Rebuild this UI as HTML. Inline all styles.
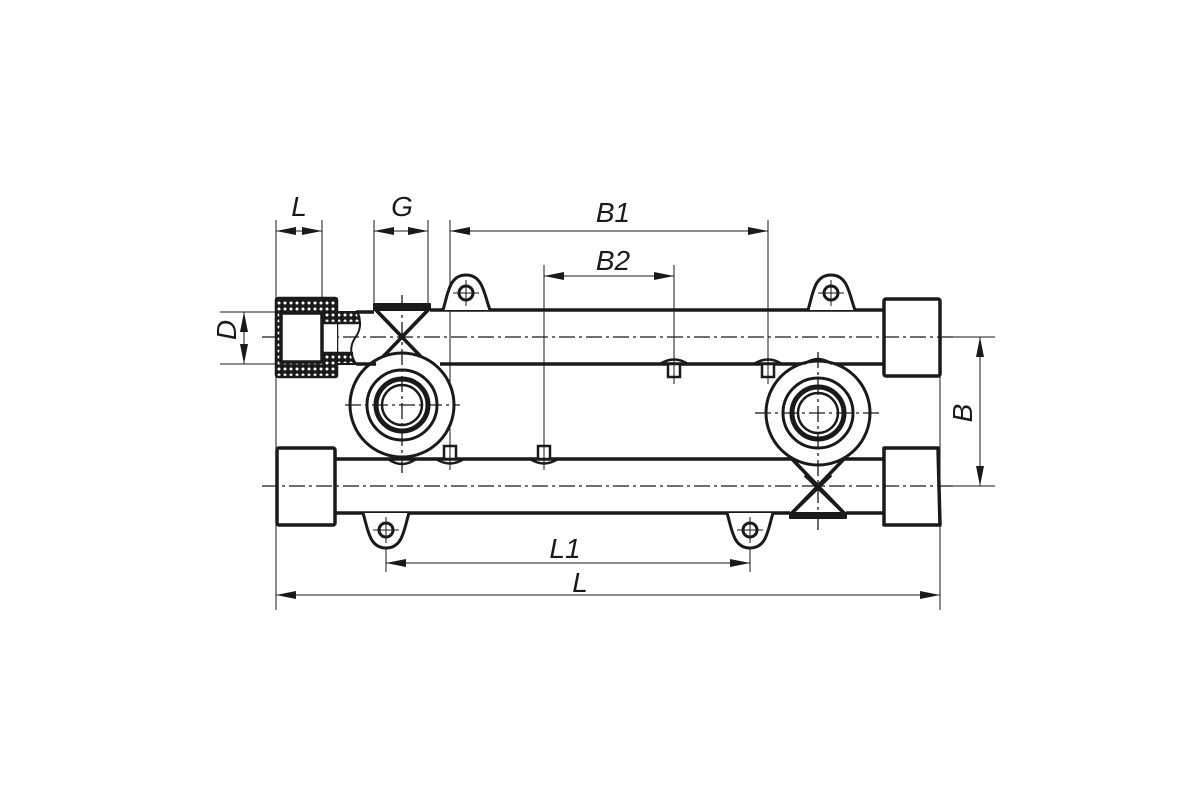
<!DOCTYPE html>
<html><head><meta charset="utf-8"><style>
html,body{margin:0;padding:0;background:#fff;}
svg{display:block;}
text{font-family:"Liberation Sans",sans-serif;font-style:italic;font-size:28px;fill:#1a1a1a;}
</style></head><body>
<svg width="1200" height="800" viewBox="0 0 1200 800" xmlns="http://www.w3.org/2000/svg">
<defs>
<pattern id="hat" width="6" height="6" patternUnits="userSpaceOnUse">
<rect width="6" height="6" fill="#1a1a1a"/>
<circle cx="3" cy="3" r="1.5" fill="#fff"/>
</pattern>
<marker id="ar" viewBox="0 0 20 8" refX="20" refY="4" markerWidth="20" markerHeight="8" markerUnits="userSpaceOnUse" orient="auto-start-reverse">
<path d="M0,0 L20,4 L0,8 Z" fill="#1a1a1a"/>
</marker>
</defs>
<g stroke="#1a1a1a" fill="none">
<g stroke-width="1">
<line x1="276" y1="220" x2="276" y2="610"/>
<line x1="322" y1="220" x2="322" y2="312"/>
<line x1="374" y1="220" x2="374" y2="304"/>
<line x1="428" y1="220" x2="428" y2="304"/>
<line x1="450" y1="220" x2="450" y2="470"/>
<line x1="768" y1="220" x2="768" y2="380"/>
<line x1="544" y1="265" x2="544" y2="470"/>
<line x1="674" y1="265" x2="674" y2="380"/>
<line x1="940" y1="376" x2="940" y2="610"/>
<line x1="386" y1="530" x2="386" y2="572"/>
<line x1="750" y1="530" x2="750" y2="572"/>
<line x1="220" y1="312" x2="280" y2="312"/>
<line x1="220" y1="364" x2="280" y2="364"/>
<line x1="940" y1="337" x2="995" y2="337"/>
<line x1="940" y1="486" x2="995" y2="486"/>
<line x1="276" y1="231" x2="322" y2="231" marker-start="url(#ar)" marker-end="url(#ar)"/>
<line x1="374" y1="231" x2="428" y2="231" marker-start="url(#ar)" marker-end="url(#ar)"/>
<line x1="450" y1="231" x2="768" y2="231" marker-start="url(#ar)" marker-end="url(#ar)"/>
<line x1="544" y1="276" x2="674" y2="276" marker-start="url(#ar)" marker-end="url(#ar)"/>
<line x1="244" y1="312" x2="244" y2="364" marker-start="url(#ar)" marker-end="url(#ar)"/>
<line x1="980" y1="337" x2="980" y2="486" marker-start="url(#ar)" marker-end="url(#ar)"/>
<line x1="386" y1="563" x2="750" y2="563" marker-start="url(#ar)" marker-end="url(#ar)"/>
<line x1="276" y1="595" x2="940" y2="595" marker-start="url(#ar)" marker-end="url(#ar)"/>
</g>
<g stroke-width="1.3" stroke-dasharray="16,4,3,4">
<line x1="262" y1="337" x2="955" y2="337"/>
<line x1="262" y1="486" x2="955" y2="486"/>
</g>
<g stroke-width="3.5" stroke-linejoin="round">
<line x1="430" y1="310" x2="884" y2="310"/>
<line x1="440" y1="364" x2="884" y2="364"/>
<rect x="884" y="299" width="56" height="77" rx="2"/>
<line x1="336" y1="459" x2="884" y2="459"/>
<line x1="336" y1="513" x2="790" y2="513"/>
<line x1="846" y1="513" x2="884" y2="513"/>
<rect x="277" y="448" width="58" height="77" rx="2"/>
<path d="M884,448 L938,448 L940,525 L884,525 Z"/>
<path d="M376,310 L428,364 M428,310 L376,364"/>
<path d="M374,304 L430,304 L430,310 L374,310 Z" fill="#1a1a1a" stroke-width="2"/>
<path d="M792,513 L844,459 M792,459 L844,513" />
<path d="M790,513 L846,513 L846,518 L790,518 Z" fill="#1a1a1a" stroke-width="2"/>
<circle cx="402" cy="405" r="52" fill="#fff" stroke-width="3"/>
<circle cx="402" cy="405" r="35" stroke-width="3"/>
<circle cx="402" cy="405" r="26" stroke-width="5"/>
<circle cx="402" cy="405" r="20" stroke-width="2.5"/>
<circle cx="818" cy="413" r="52" fill="#fff" stroke-width="3"/>
<circle cx="818" cy="413" r="35" stroke-width="3"/>
<circle cx="818" cy="413" r="26" stroke-width="5"/>
<circle cx="818" cy="413" r="20" stroke-width="2.5"/>
</g>
<g stroke-width="3.5">
<path d="M805,475 L844,513 M831,475 L792,513"/>
<path d="M376,310 L402,337 L428,310"/>
</g>
<g stroke-width="1.3" stroke-dasharray="16,4,3,4">
<line x1="402" y1="295" x2="402" y2="475"/>
<line x1="345" y1="405" x2="460" y2="405"/>
<line x1="818" y1="352" x2="818" y2="530"/>
<line x1="755" y1="413" x2="882" y2="413"/>
</g>
<!-- hatched fitting -->
<path d="M276,300 Q276,298 279,298 L335,298 Q337,298 337,300 L337,375 Q337,377 335,377 L279,377 Q276,377 276,375 Z" fill="url(#hat)" stroke-width="2.5"/>
<path d="M337,312 L357,312 Q361,317 359,323 L337,323 Z" fill="url(#hat)" stroke-width="2"/>
<path d="M337,353 L352,353 Q352,359 356,364 L337,364 Z" fill="url(#hat)" stroke-width="2"/>
<path d="M322,323 L337,323 L337,353 L322,353 Z" fill="#fff" stroke="none"/>
<path d="M322,323 L358,323 M322,353 L352,353" stroke-width="2.5"/>
<path d="M357,312 Q364,326 355,338 Q347,350 356,364" stroke-width="2"/>
<path d="M281,313 L322,313 L322,362 L281,362 Z" fill="#fff" stroke-width="3.5"/>
<path d="M356,312 L374,312" stroke-width="3.5"/>
<path d="M356,364 L376,364" stroke-width="3.5"/>
<!-- lugs -->
<g stroke-width="3">
<path d="M443,310 C448,294 449,275 466,275 C483,275 484,294 490,310" fill="#fff"/>
<path d="M808,310 C813,294 814,275 831,275 C848,275 849,294 855,310" fill="#fff"/>
<path d="M363,513 C368,529 369,548 386,548 C403,548 404,529 409,513" fill="#fff"/>
<path d="M727,513 C732,529 733,548 750,548 C767,548 768,529 773,513" fill="#fff"/>
<circle cx="466" cy="293" r="7"/><circle cx="831" cy="293" r="7"/>
<circle cx="386" cy="530" r="7"/><circle cx="750" cy="530" r="7"/>
</g>
<g stroke-width="1">
<path d="M453,293 H479 M466,280 V306 M818,293 H844 M831,280 V306 M373,530 H399 M386,517 V543 M737,530 H763 M750,517 V543"/>
</g>
<g stroke-width="2.5">
<path d="M660,364 Q674,355 688,364" /><rect x="668" y="364" width="12" height="13" fill="#fff"/>
<path d="M754,364 Q768,355 782,364" /><rect x="762" y="364" width="12" height="13" fill="#fff"/>
<path d="M436,459 Q450,468 464,459" /><rect x="444" y="446" width="12" height="13" fill="#fff"/>
<path d="M530,459 Q544,468 558,459" /><rect x="538" y="446" width="12" height="13" fill="#fff"/>
<path d="M388,459 Q402,469 416,459" />
<path d="M804,364 Q818,354 832,364" />
</g>
<g stroke-width="1">
<path d="M674,358 V384 M768,358 V384 M450,440 V466 M544,440 V466"/>
</g>
</g>
<text x="299" y="216" text-anchor="middle">L</text>
<text x="402" y="216" text-anchor="middle">G</text>
<text x="613" y="222" text-anchor="middle">B1</text>
<text x="613" y="270" text-anchor="middle">B2</text>
<text x="565" y="558" text-anchor="middle">L1</text>
<text x="580" y="592" text-anchor="middle">L</text>
<text transform="translate(236,330) rotate(-90)" text-anchor="middle">D</text>
<text transform="translate(972,413) rotate(-90)" text-anchor="middle">B</text>
</svg>
</body></html>
